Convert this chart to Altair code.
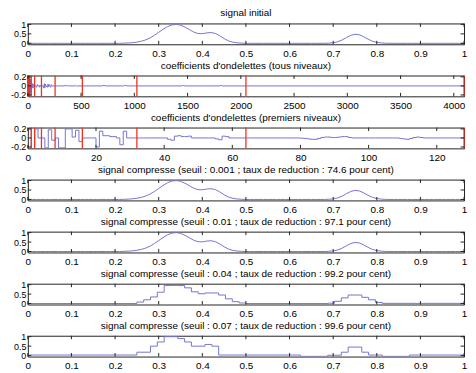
import altair as alt
import pandas as pd

# ---------------- data ----------------
# original signal sampled every 0.01 on [0, 1]
signal = (
    [0.0] * 21
    + [0.003, 0.008, 0.018, 0.035, 0.065, 0.11, 0.18, 0.28, 0.42, 0.58,
       0.74, 0.88, 0.97, 1.0, 0.96, 0.86, 0.73, 0.6, 0.52, 0.51,
       0.55, 0.57, 0.52, 0.4, 0.25, 0.13, 0.06, 0.025, 0.01]
    + [0.0] * 19
    + [0.01, 0.03, 0.08, 0.17, 0.3, 0.42, 0.48, 0.45, 0.35, 0.22,
       0.11, 0.05, 0.02, 0.005]
    + [0.0] * 18
)
signal_x = [i / 100 for i in range(len(signal))]

# compressed signals for thresholds 0.001 and 0.01 (visually identical to the original)
comp_0001 = list(signal)
comp_001 = list(signal)

# threshold 0.04 : piecewise constant
comp_004_edges = [0, 0.25, 0.265625, 0.28125, 0.296875, 0.3125, 0.328125, 0.34375,
                  0.359375, 0.375, 0.390625, 0.40625, 0.421875, 0.4375, 0.453125,
                  0.46875, 0.484375, 0.5, 0.6875, 0.703125, 0.71875, 0.734375, 0.75,
                  0.765625, 0.78125, 0.796875, 0.8125, 1.0]
comp_004_vals = [0.0, 0.08, 0.2, 0.35, 0.6, 0.95, 0.96, 0.95, 0.83, 0.62, 0.52, 0.56,
                 0.56, 0.45, 0.25, 0.1, 0.03, 0.0, 0.02, 0.12, 0.3, 0.45, 0.45, 0.33,
                 0.2, 0.06, 0.01, 0.01]

# threshold 0.07 : piecewise constant
comp_007_edges = [0, 0.25, 0.28125, 0.296875, 0.3125, 0.34375, 0.359375, 0.375,
                  0.40625, 0.421875, 0.4375, 0.625, 0.6875, 0.71875, 0.734375,
                  0.765625, 0.78125, 0.8125, 0.875, 1.0]
comp_007_vals = [0.03, 0.18, 0.5, 0.72, 1.0, 0.9, 0.72, 0.5, 0.59, 0.5, 0.03, -0.04,
                 0.02, 0.18, 0.45, 0.18, 0.03, -0.04, 0.03, 0.03]

# first 128 wavelet coefficients
coef = [
    0.30, -0.30, 0.20, 0.00, 0.00, -0.22, 0.18, -0.05,
    0.00, -0.22, -0.22, 0.20, 0.20, 0.02, 0.17, -0.08,
    0.00, 0.00, 0.00, 0.00, -0.20, 0.15, 0.05, 0.05,
    0.03, 0.03, 0.00, -0.15, 0.15, 0.00, 0.00, 0.00,
    0.00, 0.00, 0.00, 0.00, 0.00, 0.00, 0.00, 0.00,
    0.00, -0.03, -0.05, 0.04, 0.05, 0.03, 0.03, 0.04,
    0.00, 0.00, 0.00, 0.00, 0.00, 0.00, 0.00, -0.02,
    -0.04, 0.04, 0.03, 0.00, 0.00, 0.00, 0.00, 0.00,
    0.00, 0.00, 0.00, 0.00, 0.00, 0.00, 0.00, 0.00,
    0.00, 0.00, 0.00, 0.00, 0.00, 0.00, 0.00, 0.00,
    -0.005, -0.01, -0.02, -0.03, -0.03, -0.01, 0.01, 0.02,
    0.02, 0.01, 0.01, 0.02, 0.03, 0.03, 0.01, 0.00,
    0.00, 0.00, 0.00, 0.00, 0.00, 0.00, 0.00, 0.00,
    0.00, 0.00, 0.00, 0.00, 0.00, -0.01, -0.02, -0.03,
    -0.01, 0.01, 0.02, 0.01, 0.00, 0.00, 0.00, 0.00,
    0.00, 0.00, 0.00, 0.00, 0.00, 0.00, 0.00, 0.00,
]
# remaining coefficients (index, value) beyond 128 - small wiggles
coef_rest_idx = [128, 145, 150, 155, 160, 165, 170, 185, 190, 195, 200, 205, 215, 220,
                 225, 256, 340, 350, 360, 370, 380, 440, 450, 460, 470, 700, 715, 730,
                 900, 915, 930, 1440, 1460, 1480, 1800, 1815, 1830, 4096]
coef_rest_val = [0, 0, -0.05, 0.05, -0.04, 0.04, 0, -0.03, 0.04, -0.02, 0.03, 0, -0.03,
                 0.03, 0, 0, 0, 0.015, -0.01, 0.015, 0, 0, 0.015, -0.01, 0, 0, 0.012, 0,
                 0, 0.012, 0, 0, 0.01, 0, 0, 0.01, 0, 0]

levels_all = [1, 2, 4, 8, 16, 32, 64, 128, 256, 512, 1024, 2048, 4096]
levels_first = [1, 2, 4, 8, 16, 32, 64, 128]

x_ticks_unit = [0, 0.1, 0.2, 0.3, 0.4, 0.5, 0.6, 0.7, 0.8, 0.9, 1]
x_ticks_all = [0, 500, 1000, 1500, 2000, 2500, 3000, 3500, 4000]
x_ticks_first = [0, 20, 40, 60, 80, 100, 120]
y_ticks_sig = [0, 0.5, 1]
y_ticks_coef = [-0.2, 0, 0.2]

titles = [
    "signal initial",
    "coefficients d'ondelettes (tous niveaux)",
    "coefficients d'ondelettes (premiers niveaux)",
    "signal compresse (seuil : 0.001 ; taux de reduction : 74.6 pour cent)",
    "signal compresse (seuil : 0.01 ; taux de reduction : 97.1 pour cent)",
    "signal compresse (seuil : 0.04 ; taux de reduction : 99.2 pour cent)",
    "signal compresse (seuil : 0.07 ; taux de reduction : 99.6 pour cent)",
]

# ---------------- styling ----------------
W, H, TL = 440, 21, 3.5
BLUE = "#7474d2"
RED = "#ee3322"
FONT = "Liberation Sans"
YLAB = "datum.value < 0 ? '-' + format(-datum.value, '~r') : format(datum.value, '~r')"


def panel(df, interp, xdom, xticks, ydom, yticks, title, rules=None):
    xs = alt.Scale(domain=xdom, nice=False, zero=False)
    ys = alt.Scale(domain=ydom, nice=False, zero=False)
    xax = alt.Axis(values=xticks, format="~r", title=None, ticks=False, domain=False, grid=False,
                   labelFlush=False, labelOverlap=False, labelPadding=4, labelFontSize=10)
    yax = alt.Axis(values=yticks, labelExpr=YLAB, title=None, ticks=False, domain=False, grid=False,
                   labelFlush=False, labelOverlap=False, labelPadding=2, labelFontSize=9,
                   minExtent=19.5, maxExtent=19.5)
    line = alt.Chart(df).mark_line(color=BLUE, strokeWidth=1, interpolate=interp, clip=True).encode(
        x=alt.X("x:Q", scale=xs, axis=xax),
        y=alt.Y("y:Q", scale=ys, axis=yax),
    )
    layers = [line]
    if rules is not None:
        layers.append(
            alt.Chart(pd.DataFrame({"r": rules})).mark_rule(color=RED, strokeWidth=1.3).encode(
                x=alt.X("r:Q", scale=xs, axis=xax), y=alt.value(0), y2=alt.value(H))
        )
    xt = pd.DataFrame({"t": xticks})
    yt = pd.DataFrame({"t": yticks})
    layers += [
        alt.Chart(xt).mark_rule(color="#222", strokeWidth=1).encode(
            x=alt.X("t:Q", scale=xs, axis=xax), y=alt.value(0), y2=alt.value(TL)),
        alt.Chart(xt).mark_rule(color="#222", strokeWidth=1).encode(
            x=alt.X("t:Q", scale=xs, axis=xax), y=alt.value(H - TL), y2=alt.value(H)),
        alt.Chart(yt).mark_rule(color="#222", strokeWidth=1).encode(
            y=alt.Y("t:Q", scale=ys, axis=yax), x=alt.value(0), x2=alt.value(TL)),
        alt.Chart(yt).mark_rule(color="#222", strokeWidth=1).encode(
            y=alt.Y("t:Q", scale=ys, axis=yax), x=alt.value(W - TL), x2=alt.value(W)),
    ]
    return alt.layer(*layers).properties(
        width=W, height=H,
        title=alt.TitleParams(title, fontSize=10, font=FONT, fontWeight="normal", anchor="middle",
                              frame="group", offset=2, color="black"),
    )


sig_df = pd.DataFrame({"x": signal_x, "y": signal})
c1_df = pd.DataFrame({"x": signal_x, "y": comp_0001})
c2_df = pd.DataFrame({"x": signal_x, "y": comp_001})
c3_df = pd.DataFrame({"x": comp_004_edges, "y": comp_004_vals})
c4_df = pd.DataFrame({"x": comp_007_edges, "y": comp_007_vals})
first_df = pd.DataFrame({"x": list(range(len(coef))) + [len(coef)], "y": coef + [coef[-1]]})
all_df = pd.DataFrame({"x": list(range(len(coef))) + coef_rest_idx,
                       "y": coef + coef_rest_val})

sig_dom = [-0.05, 1.05]
coef_dom = [-0.23, 0.23]

panels = [
    panel(sig_df, "linear", [0, 1], x_ticks_unit, sig_dom, y_ticks_sig, titles[0]),
    panel(all_df, "linear", [0, 4096], x_ticks_all, coef_dom, y_ticks_coef, titles[1], levels_all),
    panel(first_df, "step-after", [0, 128], x_ticks_first, coef_dom, y_ticks_coef, titles[2], levels_first),
    panel(c1_df, "linear", [0, 1], x_ticks_unit, sig_dom, y_ticks_sig, titles[3]),
    panel(c2_df, "linear", [0, 1], x_ticks_unit, sig_dom, y_ticks_sig, titles[4]),
    panel(c3_df, "step-after", [0, 1], x_ticks_unit, sig_dom, y_ticks_sig, titles[5]),
    panel(c4_df, "step-after", [0, 1], x_ticks_unit, sig_dom, y_ticks_sig, titles[6]),
]

chart = alt.vconcat(*panels, spacing=31.5, bounds="flush").configure_view(
    stroke="#222", strokeWidth=1
).configure_axis(
    labelFont=FONT, labelColor="black"
).properties(padding={"left": 0, "top": -2, "right": 0, "bottom": 0})

chart.save("out.html", embed_options={"renderer": "svg", "actions": False})
